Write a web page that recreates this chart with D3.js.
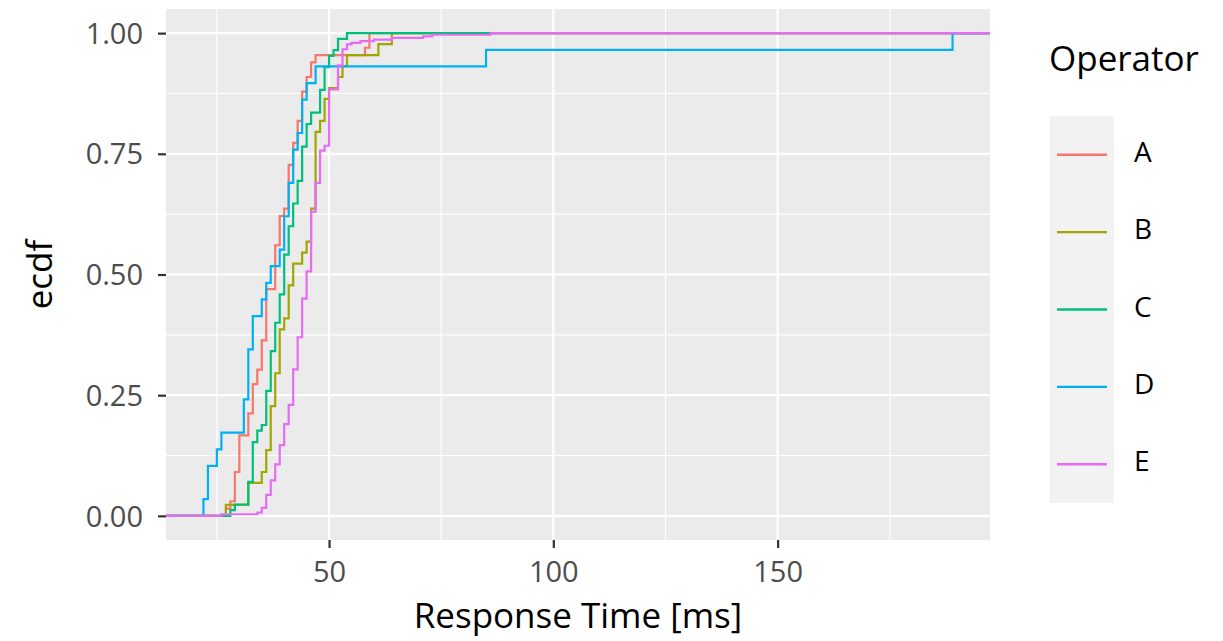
<!DOCTYPE html>
<html>
<head>
<meta charset="utf-8">
<script src="https://cdn.jsdelivr.net/npm/d3@7"></script>
<style>
body { margin: 0; background: #ffffff; }
text { font-family: "Open Sans", "Noto Sans", sans-serif; }
</style>
</head>
<body>
<div id="chart"></div>
<script>

// response time (ms) and how many measurements had that time, per operator
let operators = ["A", "B", "C", "D", "E"];
let colors = ["#F8766D", "#A3A500", "#00BF7D", "#00B0F6", "#E76BF3"];

let timesA = [27, 28, 29, 30, 32, 33, 34, 35, 36, 38, 39, 40, 41, 42, 43, 44, 45, 46, 47, 58, 59];
let countsA = [1, 1, 4, 5, 3, 4, 2, 4, 7, 6, 4, 1, 6, 3, 3, 4, 2, 2, 1, 1, 2];

let timesB = [27, 32, 35, 36, 37, 38, 39, 40, 41, 42, 44, 45, 46, 47, 48, 49, 50, 52, 53, 54, 61, 64];
let countsB = [1, 2, 1, 2, 4, 3, 4, 1, 3, 2, 1, 1, 3, 7, 1, 2, 1, 1, 1, 1, 1, 1];

let timesC = [28, 29, 32, 33, 34, 35, 36, 37, 38, 39, 40, 41, 42, 43, 44, 45, 46, 48, 49, 50, 51, 52, 54];
let countsC = [1, 1, 4, 7, 2, 1, 6, 7, 5, 5, 7, 5, 4, 4, 6, 4, 2, 4, 4, 2, 1, 2, 1];

let timesD = [22, 23, 25, 26, 31, 32, 33, 35, 36, 37, 39, 40, 41, 42, 43, 44, 45, 47, 85, 189];
let countsD = [1, 2, 1, 1, 2, 3, 2, 1, 1, 1, 1, 2, 2, 2, 1, 2, 1, 1, 1, 1];

let timesE = [26, 34, 35, 36, 37, 38, 39, 40, 41, 42, 43, 44, 45, 46, 47, 48, 49, 50, 52, 53, 54, 55, 57, 60, 64, 71, 73, 86];
let countsE = [1, 1, 3, 8, 9, 10, 12, 13, 12, 22, 20, 24, 17, 37, 18, 20, 3, 35, 15, 10, 3, 1, 1, 1, 1, 1, 1, 1];

let xTicks = [50, 100, 150];
let xMinor = [25, 75, 125, 175];
let yTicks = [0, 0.25, 0.5, 0.75, 1];
let yMinor = [0.125, 0.375, 0.625, 0.875];

let width = 1223;
let height = 641;
let panel = {left: 166, top: 9, width: 824, height: 531};

let tables = [[timesA, countsA], [timesB, countsB], [timesC, countsC], [timesD, countsD], [timesE, countsE]];

// expand the frequency tables into single observations
let samples = tables.map(t => {
	let obs = [];
	t[0].forEach((v, i) => { for (let k = 0; k < t[1][i]; k++) obs.push(v); });
	return obs.sort((a, b) => a - b);
});

let allObs = samples.flat();
let ext = d3.extent(allObs);
let pad = (ext[1] - ext[0]) * 0.05;

let x = d3.scaleLinear()
	.domain([ext[0] - pad, ext[1] + pad])
	.range([panel.left, panel.left + panel.width]);

let y = d3.scaleLinear()
	.domain([-0.05, 1.05])
	.range([panel.top + panel.height, panel.top]);

let svg = d3.select("#chart")
	.append("svg")
	.attr("width", width)
	.attr("height", height);

svg.append("rect")
	.attr("x", panel.left)
	.attr("y", panel.top)
	.attr("width", panel.width)
	.attr("height", panel.height)
	.attr("fill", "#EBEBEB");

// grid
let grid = svg.append("g");
grid.selectAll(".xminor").data(xMinor).enter().append("line")
	.attr("x1", d => x(d)).attr("x2", d => x(d))
	.attr("y1", panel.top).attr("y2", panel.top + panel.height)
	.attr("stroke", "#ffffff").attr("stroke-width", 1.1);
grid.selectAll(".yminor").data(yMinor).enter().append("line")
	.attr("y1", d => y(d)).attr("y2", d => y(d))
	.attr("x1", panel.left).attr("x2", panel.left + panel.width)
	.attr("stroke", "#ffffff").attr("stroke-width", 1.1);
grid.selectAll(".xmajor").data(xTicks).enter().append("line")
	.attr("x1", d => x(d)).attr("x2", d => x(d))
	.attr("y1", panel.top).attr("y2", panel.top + panel.height)
	.attr("stroke", "#ffffff").attr("stroke-width", 2.2);
grid.selectAll(".ymajor").data(yTicks).enter().append("line")
	.attr("y1", d => y(d)).attr("y2", d => y(d))
	.attr("x1", panel.left).attr("x2", panel.left + panel.width)
	.attr("stroke", "#ffffff").attr("stroke-width", 2.2);

// ecdf step lines
let line = d3.line()
	.x(d => d[0])
	.y(d => y(d[1]))
	.curve(d3.curveStepAfter);

samples.forEach((obs, i) => {
	let n = obs.length;
	let pts = [[panel.left, 0]];
	let vals = Array.from(new Set(obs));
	vals.forEach(v => {
		let c = d3.bisectRight(obs, v);
		pts.push([x(v), c / n]);
	});
	pts.push([panel.left + panel.width, 1]);
	svg.append("path")
		.attr("d", line(pts))
		.attr("fill", "none")
		.attr("stroke", colors[i])
		.attr("stroke-width", 2.2);
});

// axes
let xAxis = svg.append("g")
	.attr("transform", `translate(0,${panel.top + panel.height})`)
	.call(d3.axisBottom(x).tickValues(xTicks).tickSize(8).tickPadding(6).tickFormat(d3.format("d")));

let yAxis = svg.append("g")
	.attr("transform", `translate(${panel.left},0)`)
	.call(d3.axisLeft(y).tickValues(yTicks).tickSize(8).tickPadding(15).tickFormat(d3.format(".2f")));

[xAxis, yAxis].forEach(a => {
	a.select(".domain").remove();
	a.selectAll(".tick line").attr("stroke", "#333333").attr("stroke-width", 2.2);
	a.selectAll(".tick text")
		.attr("fill", "#4D4D4D")
		.style("font-size", "29px")
		.style("font-family", "'Open Sans', sans-serif");
});
xAxis.selectAll(".tick text").attr("dy", null).attr("y", 42);
yAxis.selectAll(".tick text").attr("dy", "0.35em");

svg.append("text")
	.attr("x", panel.left + panel.width / 2)
	.attr("y", 628)
	.attr("text-anchor", "middle")
	.style("font-size", "35px")
	.text("Response Time [ms]");

svg.append("text")
	.attr("transform", `translate(52,${panel.top + panel.height / 2}) rotate(-90)`)
	.attr("text-anchor", "middle")
	.style("font-size", "35px")
	.text("ecdf");

// legend
let legend = svg.append("g");
legend.append("text")
	.attr("x", 1049)
	.attr("y", 71)
	.style("font-size", "35px")
	.text("Operator");

legend.append("rect")
	.attr("x", 1050)
	.attr("y", 116)
	.attr("width", 64)
	.attr("height", 387)
	.attr("fill", "#F2F2F2");

let rowH = 387 / operators.length;
let keys = legend.selectAll(".key").data(operators).enter().append("g")
	.attr("transform", (d, i) => `translate(0,${116 + rowH * (i + 0.5)})`);

keys.append("line")
	.attr("x1", 1057).attr("x2", 1107)
	.attr("y1", 0).attr("y2", 0)
	.attr("stroke", (d, i) => colors[i])
	.attr("stroke-width", 2.4);

keys.append("text")
	.attr("x", 1134)
	.attr("y", 7)
	.style("font-size", "28px")
	.text(d => d);

</script>
</body>
</html>
